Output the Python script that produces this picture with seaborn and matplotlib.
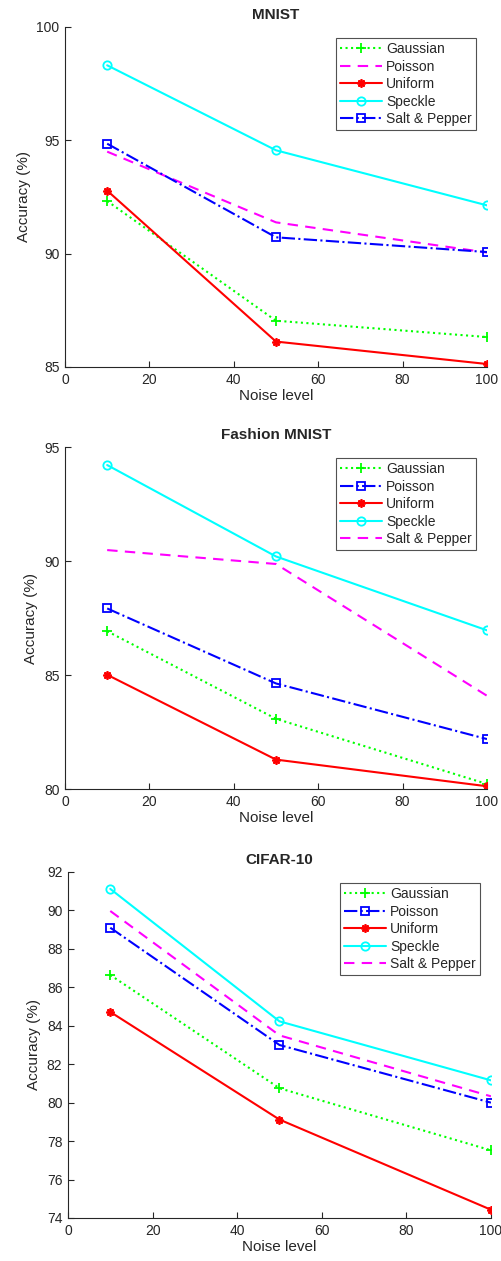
import matplotlib
matplotlib.use("Agg")
import matplotlib.pyplot as plt
import numpy as np
import pandas as pd
import seaborn as sns

# Données
noise_levels = [10, 50, 100]

mnist_gaussian = [92.32, 87.04, 86.32]
mnist_poisson = [94.50, 91.38, 90.05]
mnist_uniform = [92.78, 86.12, 85.13]
mnist_speckle = [98.31, 94.56, 92.13]
mnist_saltpepper = [94.85, 90.72, 90.07]

fashion_gaussian = [86.92, 83.08, 80.22]
fashion_poisson = [87.92, 84.63, 82.19]
fashion_uniform = [85.01, 81.29, 80.12]
fashion_speckle = [94.21, 90.20, 86.96]
fashion_saltpepper = [90.48, 89.87, 84.09]

cifar_gaussian = [86.64, 80.75, 77.52]
cifar_poisson = [89.10, 83.00, 80.00]
cifar_uniform = [84.72, 79.12, 74.43]
cifar_speckle = [91.12, 84.23, 81.16]
cifar_saltpepper = [89.97, 83.50, 80.33]

series_names = ["Gaussian", "Poisson", "Uniform", "Speckle", "Salt & Pepper"]
titles = ["MNIST", "Fashion MNIST", "CIFAR-10"]
y_limits = [(85, 100), (80, 95), (74, 92)]
y_ticks = [[85, 90, 95, 100], [80, 85, 90, 95], list(range(74, 93, 2))]

# Styles façon MATLAB
style_gauss = dict(color=(0, 1, 0), linestyle=":", marker="+", markersize=7)
style_unif = dict(color=(1, 0, 0), linestyle="-", marker=(8, 2, 0), markersize=6)
style_speck = dict(color=(0, 1, 1), linestyle="-", marker="o", markersize=6,
                   markerfacecolor="none")
style_square = dict(color=(0, 0, 1), linestyle="-.", marker="s", markersize=5.5,
                    markerfacecolor="none")
style_dash = dict(color=(1, 0, 1), linestyle=(0, (5, 3.5)), marker=None)

panels = [
    ([mnist_gaussian, mnist_poisson, mnist_uniform, mnist_speckle, mnist_saltpepper],
     [style_gauss, style_dash, style_unif, style_speck, style_square]),
    ([fashion_gaussian, fashion_poisson, fashion_uniform, fashion_speckle, fashion_saltpepper],
     [style_gauss, style_square, style_unif, style_speck, style_dash]),
    ([cifar_gaussian, cifar_poisson, cifar_uniform, cifar_speckle, cifar_saltpepper],
     [style_gauss, style_square, style_unif, style_speck, style_dash]),
]

sns.set_style("white")
plt.rcParams['font.family'] = ['Liberation Sans', 'DejaVu Sans']
axis_grey = (0.15, 0.15, 0.15)

fig = plt.figure(figsize=(5.01, 12.61), dpi=100)
positions = [
    [0.1297, 0.709, 0.8423, 0.2696],
    [0.1297, 0.3743, 0.8423, 0.2712],
    [0.1357, 0.0341, 0.8443, 0.2744],
]

for pos, (values, styles), title, ylim, yt in zip(positions, panels, titles, y_limits, y_ticks):
    ax = fig.add_axes(pos)
    for name, vals, st in zip(series_names, values, styles):
        df = pd.DataFrame({"noise": noise_levels, "acc": vals})
        kw = dict(st)
        color = kw.pop("color")
        sns.lineplot(data=df, x="noise", y="acc", ax=ax, color=color, label=name,
                     linewidth=1.5, markeredgecolor=color, markeredgewidth=1.3,
                     **kw)
    ax.set_xlim(0, 100)
    ax.set_ylim(*ylim)
    ax.set_xticks([0, 20, 40, 60, 80, 100])
    ax.set_yticks(yt)
    ax.set_title(title, fontsize=11, fontweight="bold", pad=6)
    ax.set_xlabel("Noise level", fontsize=11, color=axis_grey, labelpad=2)
    ax.set_ylabel("Accuracy (%)", fontsize=11, color=axis_grey, labelpad=4)
    sns.despine(ax=ax)
    for sp in ["left", "bottom"]:
        ax.spines[sp].set_color(axis_grey)
        ax.spines[sp].set_linewidth(0.8)
    ax.tick_params(direction="in", length=4, width=0.8, colors=axis_grey,
                   labelsize=10, left=True, bottom=True, pad=4)
    leg = ax.legend(loc="upper right", fontsize=10, handlelength=3.0,
                    numpoints=1, borderaxespad=0.8, fancybox=False,
                    frameon=True, labelspacing=0.25, handletextpad=0.3,
                    borderpad=0.3)
    leg.get_frame().set_edgecolor(axis_grey)
    leg.get_frame().set_linewidth(0.8)

plt.savefig("out.png", dpi=100)
plt.close()
